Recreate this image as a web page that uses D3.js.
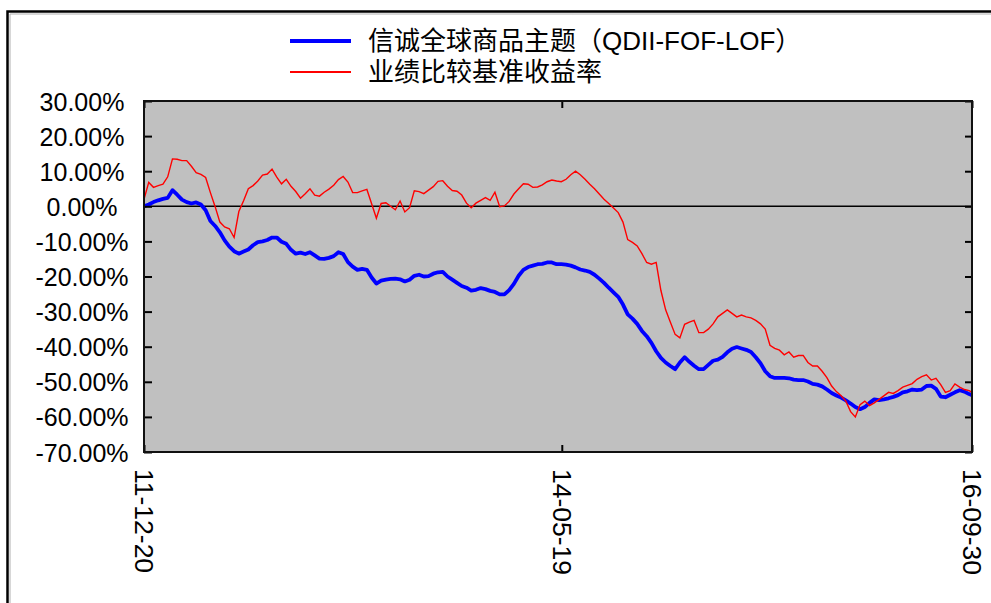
<!DOCTYPE html>
<html>
<head>
<meta charset="utf-8">
<script src="https://cdn.jsdelivr.net/npm/d3@7"></script>
<style>
  html, body { margin: 0; padding: 0; background: #fff; }
  svg { display: block; }
</style>
</head>
<body>
<svg id="chart"></svg>
<script>
// series names (legend)
const seriesNames = ["信诚全球商品主题（QDII-FOF-LOF）", "业绩比较基准收益率"];

// sample dates, every 10 days (plus the last day)
const dates = [
  "2011-12-20","2011-12-30",
  "2012-01-09","2012-01-19","2012-01-29","2012-02-08","2012-02-18","2012-02-28","2012-03-09","2012-03-19","2012-03-29",
  "2012-04-08","2012-04-18","2012-04-28","2012-05-08","2012-05-18","2012-05-28","2012-06-07","2012-06-17","2012-06-27",
  "2012-07-07","2012-07-17","2012-07-27","2012-08-06","2012-08-16","2012-08-26","2012-09-05","2012-09-15","2012-09-25",
  "2012-10-05","2012-10-15","2012-10-25","2012-11-04","2012-11-14","2012-11-24","2012-12-04","2012-12-14","2012-12-24",
  "2013-01-03","2013-01-13","2013-01-23","2013-02-02","2013-02-12","2013-02-22","2013-03-04","2013-03-14","2013-03-24",
  "2013-04-03","2013-04-13","2013-04-23","2013-05-03","2013-05-13","2013-05-23","2013-06-02","2013-06-12","2013-06-22",
  "2013-07-02","2013-07-12","2013-07-22","2013-08-01","2013-08-11","2013-08-21","2013-08-31","2013-09-10","2013-09-20",
  "2013-09-30","2013-10-10","2013-10-20","2013-10-30","2013-11-09","2013-11-19","2013-11-29","2013-12-09","2013-12-19","2013-12-29",
  "2014-01-08","2014-01-18","2014-01-28","2014-02-07","2014-02-17","2014-02-27","2014-03-09","2014-03-19","2014-03-29",
  "2014-04-08","2014-04-18","2014-04-28","2014-05-08","2014-05-18","2014-05-28","2014-06-07","2014-06-17","2014-06-27",
  "2014-07-07","2014-07-17","2014-07-27","2014-08-06","2014-08-16","2014-08-26","2014-09-05","2014-09-15","2014-09-25",
  "2014-10-05","2014-10-15","2014-10-25","2014-11-04","2014-11-14","2014-11-24","2014-12-04","2014-12-14","2014-12-24",
  "2015-01-03","2015-01-13","2015-01-23","2015-02-02","2015-02-12","2015-02-22","2015-03-04","2015-03-14","2015-03-24",
  "2015-04-03","2015-04-13","2015-04-23","2015-05-03","2015-05-13","2015-05-23","2015-06-02","2015-06-12","2015-06-22",
  "2015-07-02","2015-07-12","2015-07-22","2015-08-01","2015-08-11","2015-08-21","2015-08-31","2015-09-10","2015-09-20",
  "2015-09-30","2015-10-10","2015-10-20","2015-10-30","2015-11-09","2015-11-19","2015-11-29","2015-12-09","2015-12-19","2015-12-29",
  "2016-01-08","2016-01-18","2016-01-28","2016-02-07","2016-02-17","2016-02-27","2016-03-08","2016-03-18","2016-03-28",
  "2016-04-07","2016-04-17","2016-04-27","2016-05-07","2016-05-17","2016-05-27","2016-06-06","2016-06-16","2016-06-26",
  "2016-07-06","2016-07-16","2016-07-26","2016-08-05","2016-08-15","2016-08-25","2016-09-04","2016-09-14","2016-09-24","2016-09-30"
];

// fund cumulative return, %
const fund = [
  0, 0.5,
  1.2, 1.7, 2.1, 2.4, 4.6, 3.3, 1.9, 1.2, 0.8,
  1.1, 0.5, -1.1, -4.2, -5.6, -7.4, -9.7, -11.5, -12.8,
  -13.5, -12.9, -12.3, -11.1, -10.2, -10.0, -9.6, -8.9, -8.9,
  -10.1, -10.7, -12.4, -13.5, -13.2, -13.6, -13.1, -14.0, -14.9,
  -15.0, -14.7, -14.2, -13.1, -13.6, -15.9, -17.2, -18.1, -17.8,
  -18.1, -20.3, -22.0, -21.2, -20.9, -20.7, -20.6, -20.8, -21.4,
  -20.9, -19.8, -19.5, -20.0, -19.9, -19.2, -18.8, -18.7, -20.0,
  -20.9, -21.8, -22.7, -23.2, -24.0, -23.8, -23.3, -23.6, -24.1, -24.4,
  -25.1, -25.1, -23.9, -22.1, -19.8, -18.1, -17.3, -16.9, -16.5,
  -16.4, -16.0, -16.0, -16.5, -16.5, -16.6, -16.9, -17.4, -18.0,
  -18.3, -18.7, -19.5, -20.6, -21.8, -23.2, -24.5, -25.8, -28.0,
  -30.8, -32.0, -33.5, -35.5, -37.0, -38.9, -41.3, -43.2, -44.5,
  -45.5, -46.4, -44.5, -43.0, -44.3, -45.4, -46.4, -46.4, -45.2,
  -44.0, -43.7, -42.9, -41.6, -40.6, -40.1, -40.5, -40.9, -41.5,
  -43.0, -44.7, -47.0, -48.4, -48.9, -48.9, -48.9, -49.0, -49.4,
  -49.5, -49.5, -49.9, -50.6, -50.8, -51.3, -52.2, -53.2, -53.9, -54.5,
  -55.3, -56.2, -57.2, -57.8, -57.2, -56.0, -55.0, -55.2, -55.0,
  -54.7, -54.3, -53.8, -53.0, -52.7, -52.2, -52.4, -52.2, -51.2,
  -51.1, -52.0, -54.2, -54.4, -53.7, -53.0, -52.4, -52.8, -53.5, -53.8
];

// benchmark cumulative return, %
const bench = [
  2.0, 6.8,
  5.4, 5.9, 6.3, 8.4, 13.5, 13.4, 13.0, 13.0, 11.4,
  9.6, 9.1, 8.2, 3.9, -0.1, -4.5, -5.9, -6.4, -8.9,
  -1.5, 1.6, 5.0, 5.9, 7.2, 8.9, 9.2, 10.6, 8.3,
  6.4, 7.7, 5.7, 4.2, 2.3, 3.6, 5.0, 3.2, 2.9,
  4.0, 4.9, 6.0, 7.6, 8.5, 6.9, 3.9, 3.9, 4.4,
  4.8, 0.7, -3.4, 0.8, 1.0, 0.0, -1.0, 1.5, -1.6,
  -0.4, 4.4, 4.2, 3.6, 4.6, 5.6, 7.1, 7.3, 5.7,
  4.5, 4.3, 3.2, 0.9, -0.4, 0.9, 1.7, 2.5, 1.7, 4.0,
  -0.1, 0.1, 1.4, 3.5, 5.0, 6.4, 6.3, 5.4, 5.5,
  6.1, 7.0, 7.5, 7.2, 7.0, 7.7, 9.0, 10.0, 9.0,
  7.7, 6.3, 5.0, 3.5, 2.0, 0.8, -0.5, -1.8, -4.5,
  -9.5, -10.3, -11.3, -13.5, -16.0, -16.5, -16.0, -24.0, -29.5,
  -33.0, -36.5, -37.5, -33.6, -33.0, -32.5, -36.0, -36.0, -35.0,
  -33.5, -31.5, -30.5, -29.5, -30.5, -31.5, -31.0, -31.5, -31.8,
  -32.5, -33.5, -35.0, -39.6, -40.5, -41.0, -42.3, -41.5, -43.0,
  -42.5, -42.5, -44.5, -45.5, -45.5, -47.0, -48.8, -51.2, -52.8, -54.0,
  -55.5, -58.5, -60.0, -56.5, -55.5, -56.8, -56.0, -55.0, -54.0,
  -53.0, -53.3, -52.5, -51.5, -51.0, -50.5, -49.3, -48.5, -48.0,
  -49.5, -49.0, -50.8, -53.0, -52.5, -50.6, -51.5, -52.2, -52.5, -53.0
];

const yTicks = [30, 20, 10, 0, -10, -20, -30, -40, -50, -60, -70];
const xTickDates = ["2011-12-20", "2014-05-19", "2016-09-30"];

const width = 991, height = 603;
const plot = { left: 144, right: 972, top: 101, bottom: 452 };
const numFont = "'Liberation Sans', Arial, sans-serif";
// Latin font first keeps the line box compact, CJK glyphs fall back
const legendFont = "'Liberation Sans', 'Noto Sans CJK SC', sans-serif";

const parse = d3.timeParse("%Y-%m-%d");

const svg = d3.select("#chart")
    .attr("width", width)
    .attr("height", height)
    .attr("viewBox", `0 0 ${width} ${height}`);

svg.append("rect").attr("width", width).attr("height", height).attr("fill", "#fff");

// outer frame (only top and left edges are inside the picture)
svg.append("path")
    .attr("d", `M7.5,${height + 10} V11.5 H${width + 10}`)
    .attr("fill", "none").attr("stroke", "#000").attr("stroke-width", 2.5);
svg.append("path")
    .attr("d", `M10,${height + 10} V14 H${width + 10}`)
    .attr("fill", "none").attr("stroke", "#b0b0b0").attr("stroke-width", 1);

const x = d3.scaleTime()
    .domain([parse(dates[0]), parse(dates[dates.length - 1])])
    .range([plot.left, plot.right]);

const y = d3.scaleLinear()
    .domain([-70, 30])
    .range([plot.bottom, plot.top]);

// plot background
svg.append("rect")
    .attr("x", plot.left).attr("y", plot.top)
    .attr("width", plot.right - plot.left).attr("height", plot.bottom - plot.top)
    .attr("fill", "#c0c0c0");

// zero line
svg.append("line")
    .attr("x1", plot.left).attr("x2", plot.right)
    .attr("y1", y(0)).attr("y2", y(0))
    .attr("stroke", "#000").attr("stroke-width", 1.5);

const rows = dates.map((d, i) => ({ date: parse(d), fund: fund[i], bench: bench[i] }));

const line = key => d3.line()
    .x(d => x(d.date))
    .y(d => y(d[key]));

svg.append("path")
    .datum(rows)
    .attr("d", line("fund"))
    .attr("fill", "none")
    .attr("stroke", "#0000ff")
    .attr("stroke-width", 3.8)
    .attr("stroke-linejoin", "round");

svg.append("path")
    .datum(rows)
    .attr("d", line("bench"))
    .attr("fill", "none")
    .attr("stroke", "#ff0000")
    .attr("stroke-width", 1.4);

// axes: ticks point into the plot
const fmtPct = d => d.toFixed(2) + "%";

const yAxis = svg.append("g")
    .attr("transform", `translate(${plot.left},0)`)
    .call(d3.axisLeft(y).tickValues(yTicks).tickSize(-8).tickFormat(fmtPct));
yAxis.select(".domain").remove();
yAxis.selectAll("line").attr("stroke", "#000").attr("stroke-width", 2);
yAxis.selectAll("text")
    .attr("x", 82 - plot.left)
    .attr("dy", "0.36em")
    .attr("text-anchor", "middle")
    .style("font-family", numFont)
    .style("font-size", "25px")
    .attr("fill", "#000");

const yAxisR = svg.append("g")
    .attr("transform", `translate(${plot.right},0)`)
    .call(d3.axisRight(y).tickValues(yTicks).tickSize(-7).tickFormat(""));
yAxisR.select(".domain").remove();
yAxisR.selectAll("line").attr("stroke", "#000").attr("stroke-width", 2);

const xAxis = svg.append("g")
    .attr("transform", `translate(0,${plot.bottom})`)
    .call(d3.axisBottom(x).tickValues(xTickDates.map(parse)).tickSize(-7)
        .tickFormat(d3.timeFormat("%y-%m-%d")));
xAxis.select(".domain").remove();
xAxis.selectAll("line").attr("stroke", "#000").attr("stroke-width", 2);
xAxis.selectAll("text")
    .attr("transform", "rotate(90)")
    .attr("x", 17)
    .attr("y", 0)
    .attr("dy", "0.36em")
    .attr("text-anchor", "start")
    .style("font-family", numFont)
    .style("font-size", "26.5px")
    .attr("fill", "#000");

const xAxisT = svg.append("g")
    .attr("transform", `translate(0,${plot.top})`)
    .call(d3.axisTop(x).tickValues(xTickDates.map(parse)).tickSize(-7).tickFormat(""));
xAxisT.select(".domain").remove();
xAxisT.selectAll("line").attr("stroke", "#000").attr("stroke-width", 2);

// plot border
svg.append("rect")
    .attr("x", plot.left).attr("y", plot.top)
    .attr("width", plot.right - plot.left).attr("height", plot.bottom - plot.top)
    .attr("fill", "none")
    .attr("stroke", "#111")
    .attr("stroke-width", 2);

// legend
const legendColors = ["#0000ff", "#ff0000"];
const legendWidths = [4, 2];
const legendTop = 41, legendStep = 31;
const legend = svg.append("g");
seriesNames.forEach((name, i) => {
    const ly = legendTop + i * legendStep;
    legend.append("line")
        .attr("x1", 290).attr("x2", 351)
        .attr("y1", ly).attr("y2", ly)
        .attr("stroke", legendColors[i])
        .attr("stroke-width", legendWidths[i]);
    legend.append("text")
        .attr("x", 368).attr("y", ly)
        .attr("dy", "0.36em")
        .style("font-family", legendFont)
        .style("font-size", "26px")
        .attr("fill", "#000")
        .text(name);
});
</script>
</body>
</html>
